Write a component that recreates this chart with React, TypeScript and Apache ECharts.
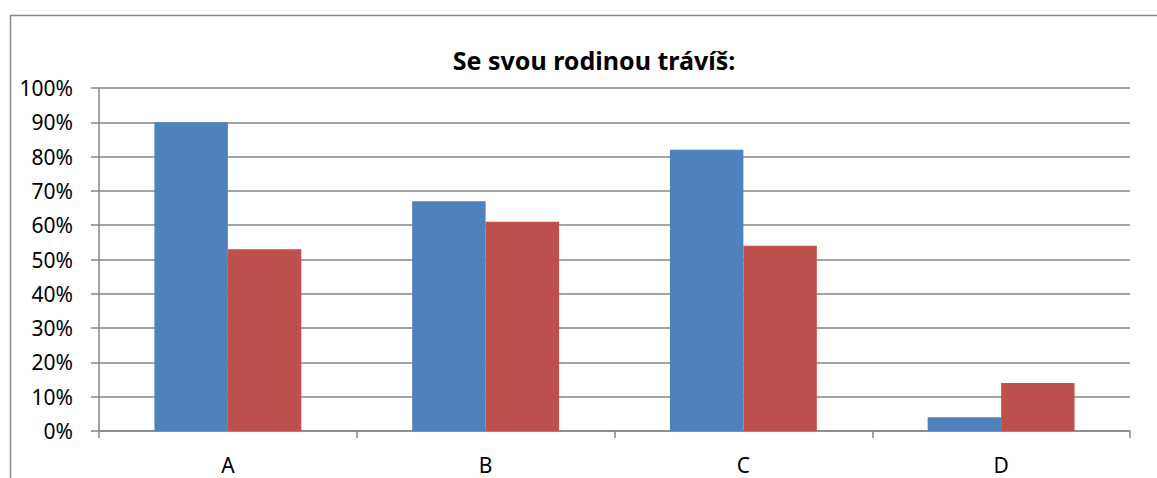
import React, { useEffect, useRef } from "react";
import * as echarts from "echarts";

const categories = ["A", "B", "C", "D"];
const seriesBlue = [90, 67, 82, 4];
const seriesRed = [53, 61, 54, 14];
const titleText = "Se svou rodinou trávíš:";

const FONT = "'Noto Sans', sans-serif";
const GRID_COLOR = "#868686";

export default function App() {
  const ref = useRef<HTMLDivElement>(null);
  useEffect(() => {
    if (!ref.current) return;
    const chart = echarts.init(ref.current, null, { renderer: "svg" });
    chart.setOption({
      animation: false,
      backgroundColor: "#ffffff",
      title: {
        text: titleText,
        left: 589,
        textAlign: "center",
        top: 42,
        textStyle: { fontFamily: FONT, fontWeight: "bold", fontSize: 25, color: "#000" },
      },
      graphic: [
        {
          type: "rect",
          shape: { x: 10.5, y: 15.5, width: 1200, height: 600 },
          style: { fill: "none", stroke: "#868686", lineWidth: 1.5 },
          silent: true,
        },
      ],
      grid: { left: 99, top: 88, right: 27, bottom: 47, containLabel: false },
      xAxis: {
        type: "category",
        data: categories,
        axisLine: { show: true, lineStyle: { color: GRID_COLOR, width: 1.5 } },
        axisTick: { show: true, length: 7, alignWithLabel: false, lineStyle: { color: GRID_COLOR, width: 1.5 } },
        axisLabel: { color: "#000", fontFamily: FONT, fontSize: 21, margin: 23 },
        splitLine: { show: false },
      },
      yAxis: {
        type: "value",
        min: 0,
        max: 100,
        interval: 10,
        axisLine: { show: true, lineStyle: { color: GRID_COLOR, width: 1.5 } },
        axisTick: { show: true, length: 8, inside: false, lineStyle: { color: GRID_COLOR, width: 1.5 } },
        axisLabel: { color: "#000", fontFamily: FONT, fontSize: 21, margin: 26, formatter: "{value}%" },
        splitLine: { show: true, lineStyle: { color: GRID_COLOR, width: 1.5 } },
      },
      series: [
        {
          type: "bar",
          data: seriesBlue,
          itemStyle: { color: "#4F81BD" },
          barGap: "0%",
          barCategoryGap: "43%",
        },
        {
          type: "bar",
          data: seriesRed,
          itemStyle: { color: "#C0504D" },
          barGap: "0%",
          barCategoryGap: "43%",
        },
      ],
    });
    return () => chart.dispose();
  }, []);
  return (
    <div
      ref={ref}
      style={{ position: "fixed", left: 0, top: 0, width: 1157, height: 478 }}
    />
  );
}
